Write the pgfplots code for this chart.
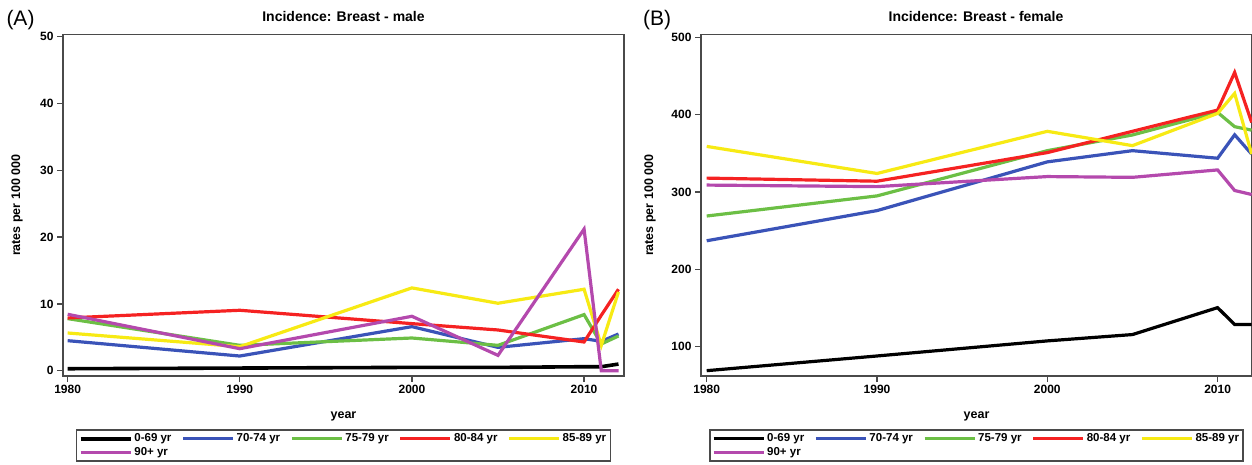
\documentclass[border=0pt]{standalone}
\usepackage{fontspec}
\setmainfont{Liberation Sans}
\usepackage{pgfplots}
\pgfplotsset{compat=1.18}

\definecolor{c70}{HTML}{3A53B8}
\definecolor{c75}{HTML}{6CBF45}
\definecolor{c80}{HTML}{F52222}
\definecolor{c85}{HTML}{F7EA14}
\definecolor{c90}{HTML}{B449AD}
\definecolor{axgray}{HTML}{4A4A4A}

\pgfplotsset{
  panel/.style={
    scale only axis,
    height=341.5pt,
    axis line style={draw=axgray, line width=1.5pt},
    tick align=outside,
    tick pos=left,
    major tick length=6pt,
    every tick/.style={draw=axgray, line width=1.3pt},
    tick label style={font=\bfseries\fontsize{12}{14}\selectfont},
    /pgf/number format/assume math mode=true,
    xtick={1980,1990,2000,2010},
    x tick label style={/pgf/number format/1000 sep={}},
    xlabel={year},
    xlabel style={font=\bfseries\fontsize{12.5}{14}\selectfont, at={(axis description cs:0.5,-0.117)}, anchor=center},
    ylabel={rates per 100 000},
    legend columns=5,
    legend cell align=left,
    legend style={at={(axis description cs:0.5,-0.156)}, anchor=north,
      draw=axgray, line width=1.3pt, inner sep=2pt, row sep=0pt,
      font=\bfseries\fontsize{11.5}{13}\selectfont,
      /tikz/every even column/.append style={column sep=8pt}},
    legend image code/.code={\draw[##1] (0pt,0pt) -- (50pt,0pt);},
    every axis plot/.append style={line width=3.2pt, no markers},
  },
}

\begin{document}
\begin{tikzpicture}
% (A) male
\begin{axis}[panel, at={(63pt,-376pt)}, anchor=south west, width=561pt,
  xmin=1979.73, xmax=2012.32, ymin=-0.79, ymax=50.33, ytick={0,10,...,50},
  ylabel style={font=\bfseries\fontsize{12.5}{15}\selectfont, at={(axis description cs:-0.082,0.5)}, anchor=center}]
\addplot[black, line width=3.6pt] coordinates {(1980,0.3) (1990,0.4) (2000,0.5) (2005,0.5) (2010,0.6) (2011,0.6) (2012,1.0)};
\addlegendentry{0-69 yr}
\addplot[c70] coordinates {(1980,4.5) (1990,2.2) (2000,6.6) (2005,3.5) (2010,4.8) (2011,4.4) (2012,5.5)};
\addlegendentry{70-74 yr}
\addplot[c75] coordinates {(1980,7.8) (1990,3.8) (2000,4.9) (2005,3.8) (2010,8.4) (2011,4.0) (2012,5.2)};
\addlegendentry{75-79 yr}
\addplot[c80] coordinates {(1980,7.9) (1990,9.05) (2000,7.05) (2005,6.1) (2010,4.3) (2011,8.3) (2012,12.2)};
\addlegendentry{80-84 yr}
\addplot[c85] coordinates {(1980,5.65) (1990,3.6) (2000,12.4) (2005,10.1) (2010,12.2) (2011,3.8) (2012,11.8)};
\addlegendentry{85-89 yr}
\addplot[c90] coordinates {(1980,8.45) (1990,3.3) (2000,8.15) (2005,2.3) (2010,21.2) (2011,0) (2012,0)};
\addlegendentry{90+ yr}
\end{axis}

% (B) female
\begin{axis}[panel, at={(701pt,-376pt)}, anchor=south west, width=551pt,
  xmin=1979.665, xmax=2012.02, ymin=62.1, ymax=503.7, ytick={100,200,...,500},
  ylabel style={font=\bfseries\fontsize{12.5}{15}\selectfont, at={(axis description cs:-0.0926,0.5)}, anchor=center}]
\addplot[black] coordinates {(1980,69) (1990,88) (2000,107.5) (2005,115.7) (2010,150.5) (2011,128.6) (2012,128.6)};
\addlegendentry{0-69 yr}
\addplot[c70] coordinates {(1980,237) (1990,276) (2000,339) (2005,353.5) (2010,343.7) (2011,374) (2012,349)};
\addlegendentry{70-74 yr}
\addplot[c75] coordinates {(1980,269) (1990,295) (2000,353.5) (2005,373.8) (2010,403) (2011,384.5) (2012,380)};
\addlegendentry{75-79 yr}
\addplot[c80] coordinates {(1980,318) (1990,314) (2000,351) (2005,378.5) (2010,406) (2011,454.6) (2012,390)};
\addlegendentry{80-84 yr}
\addplot[c85] coordinates {(1980,359) (1990,324) (2000,378.5) (2005,360) (2010,401.7) (2011,427.5) (2012,349)};
\addlegendentry{85-89 yr}
\addplot[c90] coordinates {(1980,309) (1990,307) (2000,320) (2005,319) (2010,328.6) (2011,302) (2012,296.8)};
\addlegendentry{90+ yr}
\end{axis}

\node[font=\bfseries\fontsize{14}{16}\selectfont] at (343.5pt,-16pt) {Incidence: Breast - male};
\node[font=\bfseries\fontsize{14}{16}\selectfont] at (976pt,-16pt) {Incidence: Breast - female};
\node[font=\fontsize{21}{23}\selectfont] at (20.5pt,-20pt) {(A)};
\node[font=\fontsize{21}{23}\selectfont] at (657pt,-20pt) {(B)};

\pgfresetboundingbox
\useasboundingbox (0pt,0pt) rectangle (1252pt,-464pt);
\end{tikzpicture}
\end{document}
